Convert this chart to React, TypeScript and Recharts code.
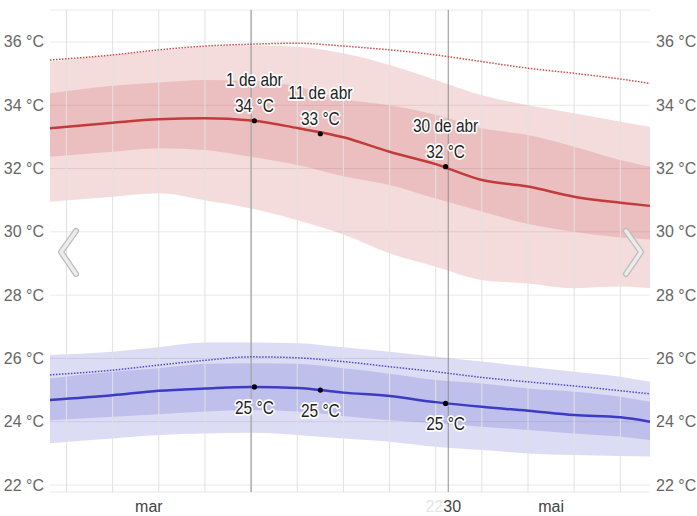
import React from 'react';
import {
  ComposedChart,
  Area,
  Line,
  XAxis,
  YAxis,
  CartesianGrid,
  ReferenceLine,
  ReferenceDot,
} from 'recharts';

// day 0 = 1 de mar, day 91 = 31 de mai
const days = [0, 9.5, 16.5, 23.5, 30.5, 37.5, 44.5, 51.5, 58.5, 65.5, 72.5, 79.5, 86.5, 91];

// daily high (red)
const highP10 = [30.95, 31.11, 31.22, 31.0, 30.74, 30.37, 29.92, 29.32, 28.9, 28.48, 28.37, 28.22, 28.27, 28.22];
const highP25 = [32.37, 32.53, 32.64, 32.59, 32.37, 32.11, 31.76, 31.48, 31.05, 30.64, 30.25, 30.0, 29.82, 29.76];
const highMean = [33.27, 33.45, 33.56, 33.59, 33.52, 33.28, 32.99, 32.53, 32.14, 31.64, 31.43, 31.11, 30.92, 30.82];
const highP75 = [34.38, 34.62, 34.72, 34.8, 34.77, 34.59, 34.2, 34.0, 33.7, 33.27, 33.06, 32.69, 32.27, 32.06];
const highP90 = [35.38, 35.59, 35.72, 35.85, 35.9, 35.85, 35.64, 35.27, 34.8, 34.32, 34.0, 33.75, 33.48, 33.32];
const highFeels = [35.43, 35.59, 35.75, 35.87, 35.93, 35.96, 35.87, 35.75, 35.59, 35.38, 35.17, 35.01, 34.83, 34.69];

// daily low (blue)
const lowP10 = [23.32, 23.47, 23.58, 23.63, 23.65, 23.58, 23.47, 23.37, 23.21, 23.11, 23.0, 22.95, 22.92, 22.9];
const lowP25 = [24.05, 24.16, 24.24, 24.32, 24.37, 24.32, 24.18, 24.05, 23.95, 23.84, 23.74, 23.63, 23.53, 23.42];
const lowMean = [24.69, 24.84, 24.98, 25.05, 25.1, 25.07, 24.92, 24.81, 24.62, 24.47, 24.35, 24.21, 24.14, 24.0];
const lowP75 = [25.37, 25.58, 25.69, 25.83, 25.85, 25.83, 25.69, 25.52, 25.32, 25.21, 25.05, 24.95, 24.79, 24.63];
const lowP90 = [26.11, 26.21, 26.35, 26.5, 26.5, 26.48, 26.35, 26.21, 26.05, 25.9, 25.74, 25.58, 25.42, 25.26];
const lowFeels = [25.48, 25.63, 25.79, 25.94, 26.05, 26.02, 25.9, 25.74, 25.58, 25.4, 25.26, 25.13, 24.98, 24.88];

// annotated days
const markDays = [31, 41, 60];
const markDates = ['1 de abr', '11 de abr', '30 de abr'];
const markHigh = [33.51, 33.1, 32.06];
const markLow = [25.1, 25.0, 24.58];

const yTicks = [22, 24, 26, 28, 30, 32, 34, 36];
const xTickDays = [15, 61, 76];
const xTickLabels = ['mar', '30', 'mai'];
const weekLines = [2.5, 9.5, 16.5, 23.5, 30.5, 37.5, 44.5, 51.5, 58.5, 65.5, 72.5, 79.5, 86.5];
const monthLines = [30.5, 60.4];

const rows = days.map((d, i) => ({
  day: d,
  highOuter: [highP10[i], highP90[i]],
  highInner: [highP25[i], highP75[i]],
  highMean: highMean[i],
  highFeels: highFeels[i],
  lowOuter: [lowP10[i], lowP90[i]],
  lowInner: [lowP25[i], lowP75[i]],
  lowMean: lowMean[i],
  lowFeels: lowFeels[i],
}));

const FONT = '"Liberation Sans", Arial, sans-serif';
const RED = '#c23b3b';
const BLUE = '#3b3bc4';

const LeftTick = (props: any) => (
  <text x={44} y={props.y} dy={5.5} textAnchor="end" fontSize={16} fontFamily={FONT} fill="#666">
    {props.payload.value} °C
  </text>
);

const RightTick = (props: any) => (
  <text x={656} y={props.y} dy={5.5} textAnchor="start" fontSize={16} fontFamily={FONT} fill="#666">
    {props.payload.value} °C
  </text>
);

const BottomTick = (props: any) => {
  const idx = xTickDays.indexOf(props.payload.value);
  const label = xTickLabels[idx];
  return (
    <g>
      {label === '30' && (
        <text x={props.x - 9} y={512} textAnchor="end" fontSize={16} fontFamily={FONT} fill="#e6e6e6">
          22
        </text>
      )}
      <text x={props.x} y={512} textAnchor="middle" fontSize={16} fontFamily={FONT} fill="#444">
        {label}
      </text>
    </g>
  );
};

// tall, slightly narrow label text with a white halo
const Halo = ({ x, y, children }: any) => (
  <text
    transform={`translate(${x},${y}) scale(0.86,1)`}
    fontSize={18}
    fontFamily={FONT}
    fill="#222"
    stroke="#fff"
    strokeWidth={3.5}
    strokeLinejoin="round"
    paintOrder="stroke"
    textAnchor="middle"
  >
    {children}
  </text>
);

const highMark = (date: string, value: number) => (p: any) => (
  <g>
    <Halo x={p.cx} y={p.cy - 35}>{date}</Halo>
    <Halo x={p.cx} y={p.cy - 9}>{Math.round(value)} °C</Halo>
    <circle cx={p.cx} cy={p.cy} r={2.6} fill="#000" />
  </g>
);

const lowMark = (value: number) => (p: any) => (
  <g>
    <Halo x={p.cx} y={p.cy + 27}>{Math.round(value)} °C</Halo>
    <circle cx={p.cx} cy={p.cy} r={2.6} fill="#000" />
  </g>
);

export default function App() {
  return (
    <div style={{ position: 'relative', width: 697, height: 516, background: '#fff' }}>
      <style>{`body{margin:0}`}</style>
      <ComposedChart width={697} height={516} data={rows} margin={{ top: 10, right: 0, bottom: 0, left: 0 }}>
        <CartesianGrid yAxisId="l" vertical={false} stroke="#e9e9e9" />
        <XAxis
          type="number"
          dataKey="day"
          domain={[0, 91]}
          ticks={xTickDays}
          tick={<BottomTick />}
          axisLine={false}
          tickLine={false}
          height={24}
          allowDataOverflow
        />
        <YAxis yAxisId="l" domain={[21.78, 37.01]} ticks={yTicks} tick={<LeftTick />} width={50} axisLine={false} tickLine={false} allowDataOverflow />
        <YAxis yAxisId="r" orientation="right" domain={[21.78, 37.01]} ticks={yTicks} tick={<RightTick />} width={47} axisLine={false} tickLine={false} allowDataOverflow />

        {weekLines.map((d) => (
          <ReferenceLine key={'w' + d} yAxisId="l" x={d} stroke="#e1e1e1" strokeWidth={1} />
        ))}
        {monthLines.map((d) => (
          <ReferenceLine key={'m' + d} yAxisId="l" x={d} stroke="#8f8f8f" strokeWidth={1} />
        ))}

        <Area yAxisId="l" type="monotone" dataKey="highOuter" stroke="none" fill={RED} fillOpacity={0.18} isAnimationActive={false} />
        <Area yAxisId="l" type="monotone" dataKey="highInner" stroke="none" fill={RED} fillOpacity={0.18} isAnimationActive={false} />
        <Line yAxisId="l" type="monotone" dataKey="highFeels" stroke="#d04848" strokeWidth={1.5} strokeDasharray="1.5 1.5" dot={false} isAnimationActive={false} />
        <Line yAxisId="l" type="monotone" dataKey="highMean" stroke={RED} strokeWidth={2.5} dot={false} isAnimationActive={false} />

        <Area yAxisId="l" type="monotone" dataKey="lowOuter" stroke="none" fill={BLUE} fillOpacity={0.18} isAnimationActive={false} />
        <Area yAxisId="l" type="monotone" dataKey="lowInner" stroke="none" fill={BLUE} fillOpacity={0.18} isAnimationActive={false} />
        <Line yAxisId="l" type="monotone" dataKey="lowFeels" stroke="#4a4ac8" strokeWidth={1.5} strokeDasharray="1.5 1.5" dot={false} isAnimationActive={false} />
        <Line yAxisId="l" type="monotone" dataKey="lowMean" stroke={BLUE} strokeWidth={2.5} dot={false} isAnimationActive={false} />

        {markDays.map((d, i) => (
          <ReferenceDot key={'h' + d} yAxisId="l" x={d} y={markHigh[i]} shape={highMark(markDates[i], markHigh[i])} />
        ))}
        {markDays.map((d, i) => (
          <ReferenceDot key={'l' + d} yAxisId="l" x={d} y={markLow[i]} shape={lowMark(markLow[i])} />
        ))}
      </ComposedChart>
      <svg width={697} height={516} style={{ position: 'absolute', left: 0, top: 0, pointerEvents: 'none' }}>
        <polyline points="76,231 61,252 76,274" fill="none" stroke="#bdbdbd" strokeWidth={6} strokeLinecap="round" strokeLinejoin="round" />
        <polyline points="76,231 61,252 76,274" fill="none" stroke="#ececec" strokeWidth={3.5} strokeLinecap="round" strokeLinejoin="round" />
        <polyline points="626,231 641,252 626,274" fill="none" stroke="#bdbdbd" strokeWidth={6} strokeLinecap="round" strokeLinejoin="round" />
        <polyline points="626,231 641,252 626,274" fill="none" stroke="#ececec" strokeWidth={3.5} strokeLinecap="round" strokeLinejoin="round" />
      </svg>
    </div>
  );
}
